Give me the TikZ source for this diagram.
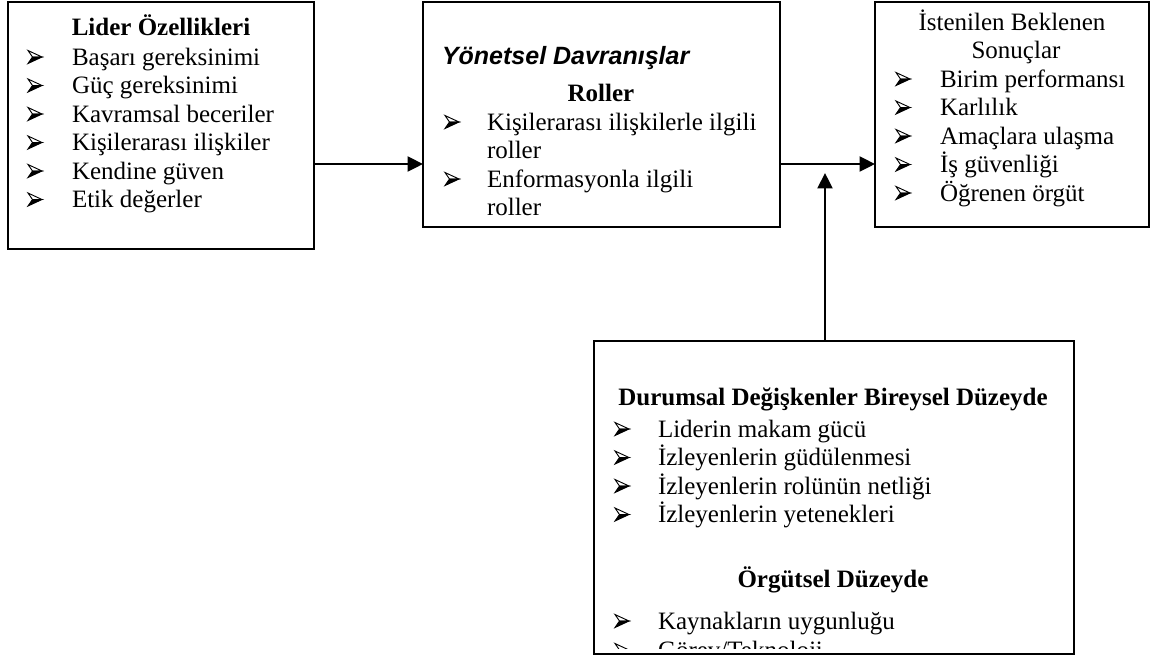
\documentclass[tikz,border=0pt]{standalone}
\usepackage{fontspec}
\setmainfont{Liberation Serif}
\newfontfamily\arialfont{Liberation Sans}
\usetikzlibrary{arrows.meta}
\begin{document}
\begin{tikzpicture}[x=0.48pt,y=-0.48pt,
  every node/.style={inner sep=0pt, outer sep=0pt},
  box/.style={draw, line width=0.95pt, anchor=north west, inner sep=0pt},
  txt/.style={anchor=base west, font=\fontsize{12pt}{13.8pt}\selectfont},
  ctr/.style={anchor=base, font=\fontsize{12pt}{13.8pt}\selectfont},
  bctr/.style={anchor=base, font=\fontsize{12pt}{13.8pt}\selectfont\bfseries},
  arrowbullet/.pic={
    \draw[line width=0.45pt, line join=miter] (0,-6.5) -- (14,0) -- (4.5,0) -- cycle;
    \fill[line join=miter] (4.5,0) -- (14,0) -- (0,6.5) -- cycle;
    \draw[line width=0.45pt, line join=miter] (4.5,0) -- (14,0) -- (0,6.5) -- cycle;
  },
  arr/.style={line width=0.95pt, -{Triangle[length=7.4pt,width=7.2pt]}}]
\useasboundingbox (0,0) rectangle (1151,658);
% boxes
\node[box, minimum width=306*0.48pt, minimum height=247*0.48pt] (b1) at (8,2) {};
\node[box, minimum width=357*0.48pt, minimum height=225*0.48pt] (b2) at (423,2) {};
\node[box, minimum width=274*0.48pt, minimum height=225*0.48pt] (b3) at (875,2) {};
\node[box, minimum width=480*0.48pt, minimum height=313*0.48pt] (b4) at (594,341) {};
% box 1
\node[bctr] (t1) at (161,35) {Lider Özellikleri};
\foreach \s/\y [count=\i] in {Başarı gereksinimi/65, Güç gereksinimi/93.5, Kavramsal beceriler/122, Kişilerarası ilişkiler/150.5, Kendine güven/179, Etik değerler/207.5} {
  \pic at (28,\y-8) {arrowbullet};
  \node[txt] (b1t\i) at (72,\y) {\s};
}
% box 2
\node[anchor=base west, font=\arialfont\fontsize{12pt}{13.8pt}\selectfont\bfseries\itshape] (t2) at (442,64) {Yönetsel Davranışlar};
\node[bctr] (r2) at (601,101) {Roller};
\pic at (445,122) {arrowbullet};
\node[txt] (b2t1) at (487,130) {Kişilerarası ilişkilerle ilgili};
\node[txt] (b2t2) at (487,158.5) {roller};
\pic at (445,179) {arrowbullet};
\node[txt] (b2t3) at (487,187) {Enformasyonla ilgili};
\node[txt] (b2t4) at (487,215.5) {roller};
% box 3
\node[ctr] (t3a) at (1012,30) {İstenilen Beklenen};
\node[ctr] (t3b) at (1016,58) {Sonuçlar};
\foreach \s/\y [count=\i] in {Birim performansı/87, Karlılık/115.5, Amaçlara ulaşma/144, İş güvenliği/172.5, Öğrenen örgüt/201} {
  \pic at (896,\y-8) {arrowbullet};
  \node[txt] (b3t\i) at (940,\y) {\s};
}
% box 4
\begin{scope}
\clip (594,341) rectangle (1073,648);
\node[bctr] (t4) at (833,405) {Durumsal Değişkenler Bireysel Düzeyde};
\foreach \s/\y [count=\i] in {Liderin makam gücü/437, İzleyenlerin güdülenmesi/465.5, İzleyenlerin rolünün netliği/494, İzleyenlerin yetenekleri/522.5} {
  \pic at (615,\y-8) {arrowbullet};
  \node[txt] (b4t\i) at (658,\y) {\s};
}
\node[bctr] (t4b) at (833,587) {Örgütsel Düzeyde};
\pic at (615,621) {arrowbullet};
\node[txt] (b4u1) at (658,629) {Kaynakların uygunluğu};
\pic at (615,650) {arrowbullet};
\node[txt] (b4u2) at (658,658) {Görev/Teknoloji};
\end{scope}
% arrows
\coordinate (ay) at (0,164);
\coordinate (vt) at (825,173);
\draw[arr] (b1.east |- ay) -- (b2.west |- ay);
\draw[arr] (b2.east |- ay) -- (b3.west |- ay);
\draw[arr] (b4.north -| vt) -- (vt);
\end{tikzpicture}
\end{document}
